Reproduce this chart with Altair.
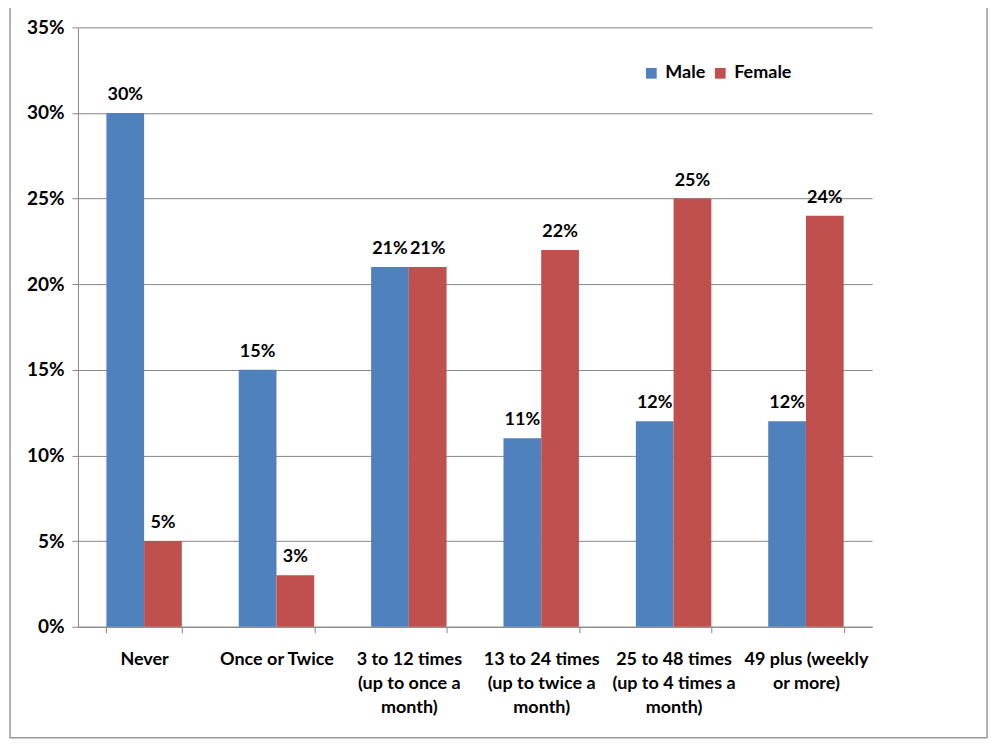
import altair as alt
import pandas as pd

categories = [
    "Never",
    "Once or Twice",
    "3 to 12 times\n(up to once a\nmonth)",
    "13 to 24 times\n(up to twice a\nmonth)",
    "25 to 48 times\n(up to 4 times  a\nmonth)",
    "49 plus (weekly\nor more)",
]
male = [30, 15, 21, 11, 12, 12]
female = [5, 3, 21, 22, 25, 24]
genders = ["Male", "Female"]
colors = ["#4F81BD", "#C0504D"]

rows = []
for c, m, f in zip(categories, male, female):
    rows.append({"cat": c, "gender": "Male", "value": m / 100})
    rows.append({"cat": c, "gender": "Female", "value": f / 100})
df = pd.DataFrame(rows)

FONT = "Lato"

x_enc = alt.X(
    "cat:N",
    sort=categories,
    title=None,
    scale=alt.Scale(paddingInner=0.43, paddingOuter=0.215),
    axis=alt.Axis(
        labelExpr="split(datum.label, '\\n')",
        labelAngle=0,
        labelFont=FONT,
        labelFontWeight="bold",
        labelFontSize=18,
        labelColor="black",
        labelLineHeight=24,
        labelPadding=18,
        tickBand="extent",
        tickSize=6,
        tickColor="#868686",
        domainColor="#868686",
        grid=False,
        labelLimit=200,
    ),
)
y_enc = alt.Y(
    "value:Q",
    title=None,
    scale=alt.Scale(domain=[0, 0.35]),
    axis=alt.Axis(
        format=".0%",
        values=[0, 0.05, 0.10, 0.15, 0.20, 0.25, 0.30, 0.35],
        labelFont=FONT,
        labelFontWeight="bold",
        labelFontSize=19,
        labelColor="black",
        labelPadding=8,
        tickSize=6,
        tickColor="#868686",
        domainColor="#868686",
        gridColor="#868686",
        gridWidth=1,
    ),
)

base = alt.Chart(df)

bars = base.mark_bar().encode(
    x=x_enc,
    y=y_enc,
    xOffset=alt.XOffset("gender:N", sort=genders),
    color=alt.Color(
        "gender:N",
        sort=genders,
        scale=alt.Scale(domain=genders, range=colors),
        legend=alt.Legend(
            title=None,
            orient="none",
            legendX=565,
            legendY=37,
            direction="horizontal",
            symbolType="square",
            symbolSize=115,
            symbolStrokeWidth=0,
            labelFont=FONT,
            labelFontWeight="bold",
            labelFontSize=18,
            labelColor="black",
            columnPadding=6,
            labelOffset=5,
        ),
    ),
)

labels = base.mark_text(
    dy=-9, baseline="bottom", font=FONT, fontWeight="bold", fontSize=18, color="black"
).encode(
    x=alt.X("cat:N", sort=categories),
    y=alt.Y("value:Q"),
    xOffset=alt.XOffset("gender:N", sort=genders),
    text=alt.Text("value:Q", format=".0%"),
)

border = alt.Chart(pd.DataFrame({"a": [0]})).mark_rect(
    fill=None, stroke="#9a9a9a", strokeWidth=1.5
).encode(
    x=alt.value(-68), x2=alt.value(910), y=alt.value(-20), y2=alt.value(711)
)

chart = (
    alt.layer(border, bars, labels)
    .properties(
        width=795,
        height=600,
        background="white",
        padding={"left": 70, "top": 19, "right": 120, "bottom": 114},
        autosize=alt.AutoSizeParams(type="none"),
    )
    .configure_view(stroke="transparent", strokeWidth=0)
    .configure_axisX(grid=False)
)

chart.save("out.html", embed_options={"renderer": "svg", "actions": False})
